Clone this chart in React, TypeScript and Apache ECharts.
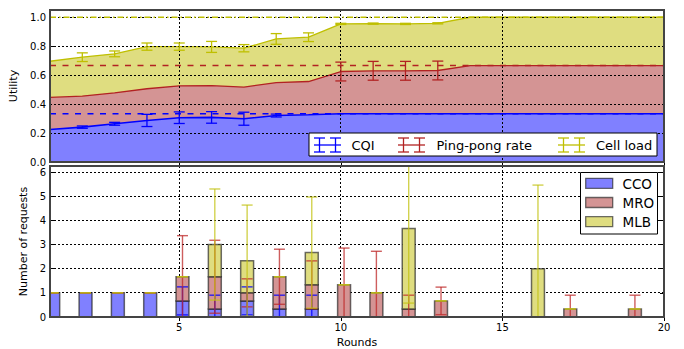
import React, { useEffect, useRef } from 'react';
import * as echarts from 'echarts';

const rounds = [1, 2, 3, 4, 5, 6, 7, 8, 9, 10, 11, 12, 13, 14, 15, 16, 17, 18, 19, 20];

// Top panel: utility components (stacked)
const cqi = [0.225, 0.241, 0.264, 0.287, 0.306, 0.308, 0.299, 0.321, 0.326, 0.333, 0.333, 0.333, 0.333, 0.333, 0.333, 0.333, 0.333, 0.333, 0.333, 0.333];
const pingPong = [0.221, 0.214, 0.214, 0.219, 0.22, 0.22, 0.218, 0.228, 0.23, 0.292, 0.297, 0.297, 0.299, 0.333, 0.333, 0.333, 0.333, 0.333, 0.333, 0.333];
const cellLoad = [0.25, 0.269, 0.269, 0.291, 0.271, 0.267, 0.269, 0.301, 0.306, 0.329, 0.326, 0.324, 0.326, 0.334, 0.334, 0.334, 0.334, 0.334, 0.334, 0.334];
const cqiErr = [0, 0.008, 0.01, 0.042, 0.04, 0.04, 0.045, 0.01, 0, 0, 0, 0, 0, 0, 0, 0, 0, 0, 0, 0];
const pingPongErr = [0, 0, 0, 0, 0, 0, 0, 0, 0, 0.065, 0.065, 0.065, 0.065, 0, 0, 0, 0, 0, 0, 0];
const cellLoadErr = [0, 0.03, 0.02, 0.025, 0.025, 0.038, 0.025, 0.037, 0.03, 0.004, 0.004, 0.004, 0.004, 0, 0, 0, 0, 0, 0, 0];
const targets = [1 / 3, 2 / 3, 1];
const utilityNames = ['CQI', 'Ping-pong rate', 'Cell load'];

// Bottom panel: number of requests (stacked bars)
const cco = [1, 1, 1, 1, 0.667, 0.333, 0.667, 0.333, 0.333, 0, 0, 0, 0, 0, 0, 0, 0, 0, 0, 0];
const mro = [0, 0, 0, 0, 1, 1.333, 0.333, 1.333, 1, 1.333, 1, 0.333, 0.667, 0, 0, 0, 0.333, 0, 0.333, 0];
const mlb = [0, 0, 0, 0, 0, 1.333, 1.333, 0, 1.333, 0, 0, 3.333, 0, 0, 0, 2, 0, 0, 0, 0];
const ccoErr = [0, 0, 0, 0, 0.58, 0.57, 0.58, 0.57, 0.57, 0, 0, 0, 0, 0, 0, 0, 0, 0, 0, 0];
const mroErr = [0, 0, 0, 0, 1.7, 1.51, 0.58, 1.14, 0.99, 1.52, 1.72, 0.57, 0.57, 0, 0, 0, 0.57, 0, 0.57, 0];
const mlbErr = [0, 0, 0, 0, 0, 2.3, 2.3, 0, 2.3, 0, 0, 3.09, 0, 0, 0, 3.46, 0, 0, 0, 0];
const requestNames = ['CCO', 'MRO', 'MLB'];

const xTicks = [5, 10, 15, 20];
const xGrid = [5, 10, 15];
const utilityGrid = [0.2, 0.4, 0.6, 0.8, 1.0];
const requestGrid = [1, 2, 3, 4, 5, 6];
const X_MIN = 1;
const X_MAX = 20;
const U_MAX = 1.05;
const R_MAX = 6.25;

const FONT = 'DejaVu Sans';
const lineColors = ['#0000ff', '#b22222', '#bfbf00'];
const fillColors = ['#8080ff', '#d49494', '#dfdd80'];
const barErrColors = ['rgba(0,0,255,0.8)', 'rgba(190,40,40,0.75)', 'rgba(195,195,20,0.75)'];
const targetDash = [[6, 6.5], [6, 6.5], [6, 3, 1.5, 3]];

const BAR_LEFT = -0.1;
const BAR_RIGHT = 0.3;
const BAR_CENTER = 0.1;

function errorBar(color: string, width: number, capHalf: number) {
  return (params: any, api: any) => {
    const x = api.value(0);
    const c = api.value(1);
    const e = api.value(2);
    const cs = params.coordSys;
    const pTop = api.coord([x, c + e]);
    const pBot = api.coord([x, c - e]);
    const yMin = cs.y;
    const yMax = cs.y + cs.height;
    const xMin = cs.x;
    const xMax = cs.x + cs.width;
    const children: any[] = [];
    const t = Math.max(pTop[1], yMin);
    const b = Math.min(pBot[1], yMax);
    const style = { stroke: color, lineWidth: width };
    if (b > t) {
      children.push({ type: 'line', shape: { x1: pTop[0], y1: t, x2: pTop[0], y2: b }, style });
    }
    [pTop, pBot].forEach((p) => {
      if (p[1] >= yMin - 0.5 && p[1] <= yMax + 0.5) {
        children.push({
          type: 'line',
          shape: { x1: Math.max(p[0] - capHalf, xMin), y1: p[1], x2: Math.min(p[0] + capHalf, xMax), y2: p[1] },
          style,
        });
      }
    });
    return { type: 'group', children };
  };
}

function barRender(fill: string) {
  return (params: any, api: any) => {
    const x = api.value(0);
    const b = api.value(1);
    const h = api.value(2);
    if (!(h > 0)) return null;
    const p0 = api.coord([x + BAR_LEFT, b + h]);
    const p1 = api.coord([x + BAR_RIGHT, b]);
    const cs = params.coordSys;
    const rect = echarts.graphic.clipRectByRect(
      { x: p0[0], y: p0[1], width: p1[0] - p0[0], height: p1[1] - p0[1] },
      { x: cs.x, y: cs.y, width: cs.width, height: cs.height }
    );
    if (!rect) return null;
    return {
      type: 'rect',
      shape: rect,
      style: { fill, stroke: 'rgba(30,30,30,0.65)', lineWidth: 1.5 },
    };
  };
}

const gridStyle = { stroke: '#000', lineWidth: 1, lineDash: [2, 2] };
const crisp = (v: number) => Math.round(v - 0.5) + 0.5;

export default function App() {
  const ref = useRef<HTMLDivElement>(null);

  useEffect(() => {
    document.body.style.margin = '0';
    if (!ref.current) return;
    const chart = echarts.init(ref.current, undefined, { renderer: 'svg' });

    const comps = [cqi, pingPong, cellLoad];
    const errs = [cqiErr, pingPongErr, cellLoadErr];
    const cum: number[][] = [];
    comps.forEach((arr, k) => {
      cum.push(arr.map((v, i) => v + (k > 0 ? cum[k - 1][i] : 0)));
    });

    const barComps = [cco, mro, mlb];
    const barErrs = [ccoErr, mroErr, mlbErr];
    const bottoms: number[][] = [];
    barComps.forEach((arr, k) => {
      bottoms.push(arr.map((_, i) => (k > 0 ? bottoms[k - 1][i] + barComps[k - 1][i] : 0)));
    });

    const series: any[] = [];

    // cumulative areas, drawn from the top layer down
    [2, 1, 0].forEach((k) => {
      series.push({
        type: 'line',
        name: utilityNames[k],
        xAxisIndex: 0,
        yAxisIndex: 0,
        symbol: 'none',
        silent: true,
        data: rounds.map((r, i) => [r, cum[k][i]]),
        lineStyle: { color: lineColors[k], width: k === 0 ? 1.6 : 1.3 },
        areaStyle: { color: fillColors[k], opacity: 1, origin: 'start' },
        z: 1,
      });
    });

    // top error bars
    errs.forEach((err, k) => {
      series.push({
        type: 'custom',
        xAxisIndex: 0,
        yAxisIndex: 0,
        z: 8,
        silent: true,
        renderItem: errorBar(lineColors[k], 1.3, 5.5),
        encode: { x: 0, y: 1 },
        data: rounds.map((r, i) => [r, cum[k][i], err[i]]).filter((d) => d[2] > 0),
      });
    });

    // bottom bars
    barComps.forEach((arr, k) => {
      series.push({
        type: 'custom',
        name: requestNames[k],
        xAxisIndex: 1,
        yAxisIndex: 2,
        z: 2,
        silent: true,
        renderItem: barRender(fillColors[k]),
        encode: { x: 0, y: 1 },
        data: rounds.map((r, i) => [r, bottoms[k][i], arr[i]]),
      });
    });
    // bottom error bars
    barErrs.forEach((err, k) => {
      series.push({
        type: 'custom',
        xAxisIndex: 1,
        yAxisIndex: 2,
        z: 8,
        silent: true,
        renderItem: errorBar(barErrColors[k], 1.4, 5.5),
        encode: { x: 0, y: 1 },
        data: rounds.map((r, i) => [r + BAR_CENTER, bottoms[k][i] + barComps[k][i], err[i]]),
      });
    });

    const tickLabel = { fontFamily: FONT, fontSize: 10, color: '#000' };
    const xBase = {
      type: 'value',
      min: X_MIN,
      max: X_MAX,
      axisLine: { show: false },
      splitLine: { show: false },
      axisTick: { show: true, inside: true, length: 4, customValues: xTicks, lineStyle: { color: '#000' } },
    };

    // Legend graphics
    const graphics: any[] = [];
    const topLeg = { x: 309, y: 133, w: 348, h: 23 };
    graphics.push({
      type: 'rect',
      z: 100,
      shape: { x: topLeg.x, y: topLeg.y, width: topLeg.w, height: topLeg.h },
      style: { fill: '#fff', stroke: '#000', lineWidth: 1 },
    });
    const topIconX = [314, 398, 558];
    const topTextX = [351.5, 436.5, 596];
    const cy = topLeg.y + topLeg.h / 2 + 0.5;
    utilityNames.forEach((name, k) => {
      const a = topIconX[k];
      const b = a + 27;
      const s = { stroke: lineColors[k], lineWidth: 1.3 };
      graphics.push({ type: 'line', z: 101, shape: { x1: a, y1: cy, x2: b, y2: cy }, style: s });
      [a + 5.5, b - 5.5].forEach((vx) => {
        graphics.push({ type: 'line', z: 101, shape: { x1: vx, y1: cy - 7, x2: vx, y2: cy + 7 }, style: s });
        graphics.push({ type: 'line', z: 101, shape: { x1: vx - 5.5, y1: cy - 7, x2: vx + 5.5, y2: cy - 7 }, style: s });
        graphics.push({ type: 'line', z: 101, shape: { x1: vx - 5.5, y1: cy + 7, x2: vx + 5.5, y2: cy + 7 }, style: s });
      });
      graphics.push({
        type: 'text',
        z: 101,
        x: topTextX[k],
        y: cy,
        style: { text: name, fontFamily: FONT, fontSize: 13, fill: '#000', verticalAlign: 'middle', align: 'left' },
      });
    });

    const botLeg = { x: 580.5, y: 172.5, w: 77, h: 61.5 };
    graphics.push({
      type: 'rect',
      z: 100,
      shape: { x: botLeg.x, y: botLeg.y, width: botLeg.w, height: botLeg.h },
      style: { fill: '#fff', stroke: '#000', lineWidth: 1 },
    });
    const rowY = [183.3, 202.5, 221.7];
    requestNames.forEach((name, k) => {
      graphics.push({
        type: 'rect',
        z: 101,
        shape: { x: 585.7, y: rowY[k] - 5, width: 27, height: 10 },
        style: { fill: fillColors[k], stroke: 'rgba(30,30,30,0.65)', lineWidth: 1.3 },
      });
      graphics.push({
        type: 'text',
        z: 101,
        x: 622.5,
        y: rowY[k] + 0.5,
        style: { text: name, fontFamily: FONT, fontSize: 13.5, fill: '#000', verticalAlign: 'middle', align: 'left' },
      });
    });

    const yRight = {
      type: 'value',
      position: 'right',
      axisLine: { show: false },
      axisLabel: { show: false },
      splitLine: { show: false },
      axisTick: { show: true, inside: true, length: 4, lineStyle: { color: '#000' } },
    };

    chart.setOption({
      animation: false,
      backgroundColor: '#fff',
      textStyle: { fontFamily: FONT },
      grid: [
        { left: 50, top: 10, width: 614, height: 152, show: true, borderColor: '#444', borderWidth: 2, backgroundColor: 'transparent', z: 20 },
        { left: 50, top: 166, width: 614, height: 151, show: true, borderColor: '#444', borderWidth: 2, backgroundColor: 'transparent', z: 20 },
      ],
      xAxis: [
        { ...xBase, gridIndex: 0, position: 'bottom', axisLabel: { show: false } },
        {
          ...xBase,
          gridIndex: 1,
          position: 'bottom',
          name: 'Rounds',
          nameLocation: 'middle',
          nameGap: 20,
          nameTextStyle: { fontFamily: FONT, fontSize: 11, color: '#000' },
          axisLabel: {
            ...tickLabel,
            margin: 5,
            customValues: xTicks,
            formatter: (v: number) => (v % 5 === 0 ? String(v) : ''),
          },
        },
        { ...xBase, gridIndex: 0, position: 'top', axisLabel: { show: false } },
        { ...xBase, gridIndex: 1, position: 'top', axisLabel: { show: false } },
      ],
      yAxis: [
        {
          type: 'value',
          gridIndex: 0,
          min: 0,
          max: U_MAX,
          interval: 0.2,
          position: 'left',
          name: 'Utility',
          nameLocation: 'middle',
          nameGap: 27,
          nameTextStyle: { fontFamily: FONT, fontSize: 11, color: '#000' },
          axisLine: { show: false },
          splitLine: { show: false },
          axisTick: { show: true, inside: true, length: 4, lineStyle: { color: '#000' } },
          axisLabel: { ...tickLabel, margin: 4, formatter: (v: number) => (v > 1.001 ? '' : v.toFixed(1)) },
        },
        { ...yRight, gridIndex: 0, min: 0, max: U_MAX, interval: 0.2 },
        {
          type: 'value',
          gridIndex: 1,
          min: 0,
          max: R_MAX,
          interval: 1,
          position: 'left',
          name: 'Number of requests',
          nameLocation: 'middle',
          nameGap: 14,
          nameTextStyle: { fontFamily: FONT, fontSize: 11, color: '#000' },
          axisLine: { show: false },
          splitLine: { show: false },
          axisTick: { show: true, inside: true, length: 4, lineStyle: { color: '#000' } },
          axisLabel: { ...tickLabel, margin: 4, formatter: (v: number) => (Number.isInteger(v) ? String(v) : '') },
        },
        { ...yRight, gridIndex: 1, min: 0, max: R_MAX, interval: 1 },
      ],
      series,
      graphic: graphics,
    });

    // gridlines and target lines, positioned through the axes' own scales
    const px = (xi: number, v: number) => chart.convertToPixel({ xAxisIndex: xi } as any, v) as number;
    const py = (yi: number, v: number) => chart.convertToPixel({ yAxisIndex: yi } as any, v) as number;
    const extra: any[] = [];
    const panels = [
      { xi: 0, yi: 0, ymax: U_MAX, hs: utilityGrid, z: 6 },
      { xi: 1, yi: 2, ymax: R_MAX, hs: requestGrid, z: 1 },
    ];
    panels.forEach((p) => {
      const left = px(p.xi, X_MIN);
      const right = px(p.xi, X_MAX);
      const top = py(p.yi, p.ymax);
      const bottom = py(p.yi, 0);
      p.hs.forEach((v) => {
        const y = crisp(py(p.yi, v));
        extra.push({ type: 'line', z: p.z, silent: true, shape: { x1: left, y1: y, x2: right, y2: y }, style: gridStyle });
      });
      xGrid.forEach((v) => {
        const x = crisp(px(p.xi, v));
        extra.push({ type: 'line', z: p.z, silent: true, shape: { x1: x, y1: top, x2: x, y2: bottom }, style: gridStyle });
      });
      if (p.yi === 0) {
        targets.forEach((v, k) => {
          const y = py(0, v);
          extra.push({
            type: 'line',
            z: 7,
            silent: true,
            shape: { x1: left, y1: y, x2: right, y2: y },
            style: { stroke: lineColors[k], lineWidth: 1.4, lineDash: targetDash[k] },
          });
        });
      }
    });
    chart.setOption({ graphic: [...graphics, ...extra] });

    return () => chart.dispose();
  }, []);

  return <div ref={ref} style={{ width: 684, height: 349 }} />;
}
